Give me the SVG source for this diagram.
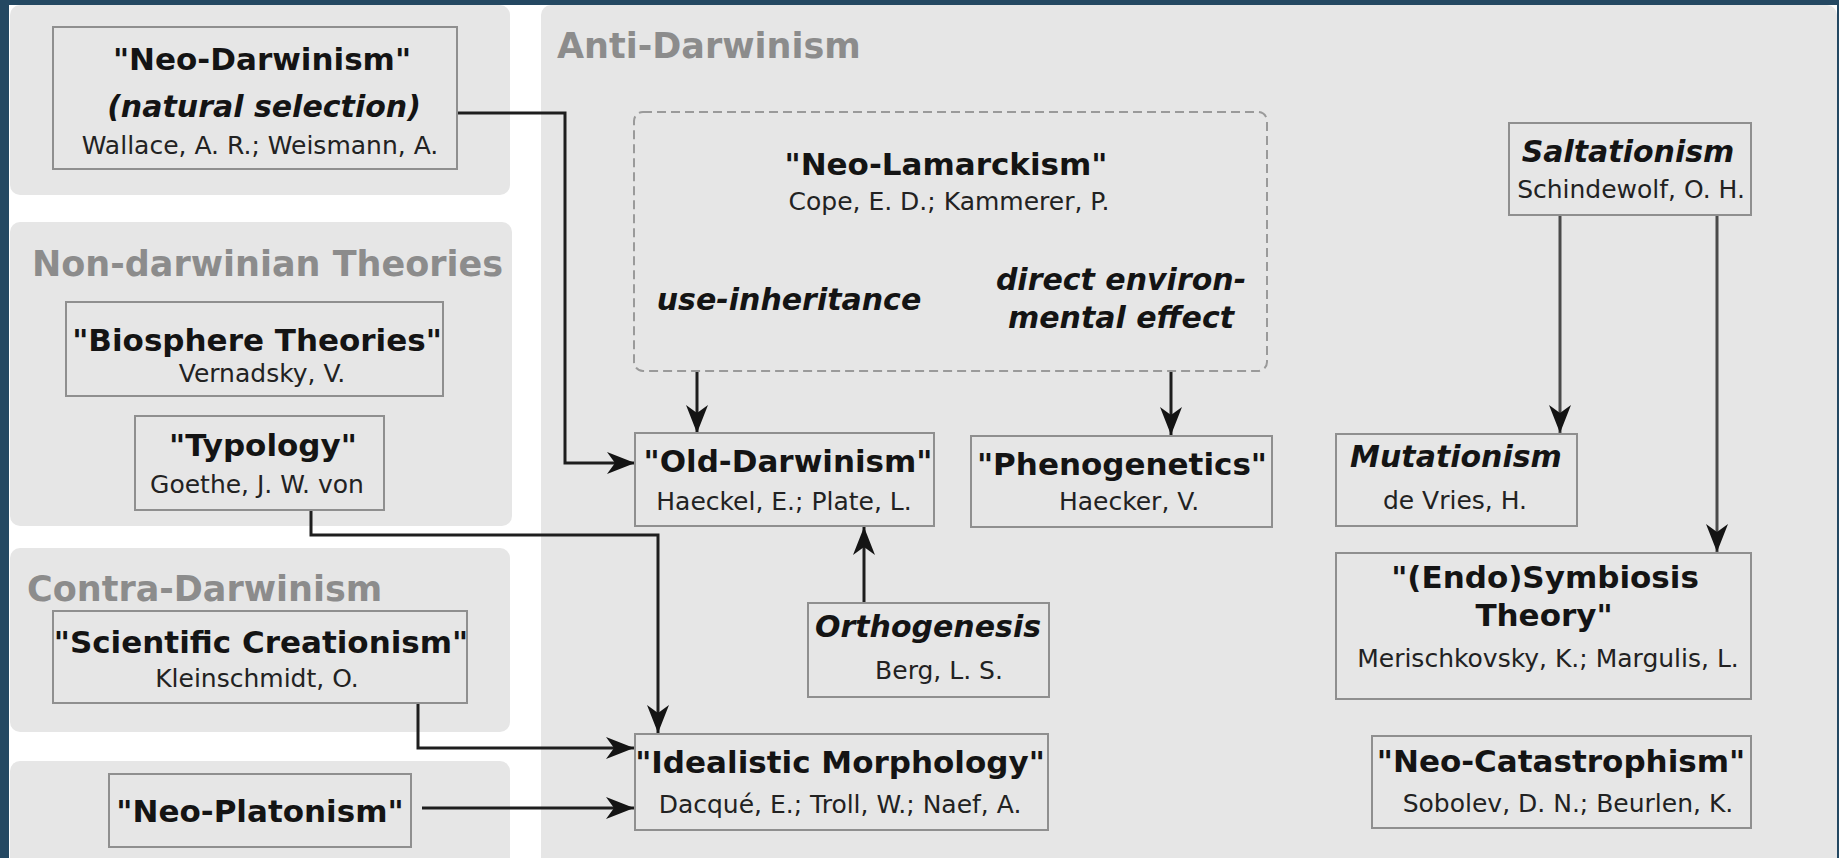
<svg xmlns="http://www.w3.org/2000/svg" width="1839" height="858" viewBox="0 0 1839 858">
<style>
.panel{fill:#e6e6e6}
.box{fill:none;stroke:#8f8f8f;stroke-width:2}
.dash{fill:none;stroke:#9a9a9a;stroke-width:2;stroke-dasharray:9 5}
text{font-family:"DejaVu Sans","Liberation Sans",sans-serif;text-anchor:middle}
.t{font-size:31px;font-weight:bold;fill:#141414}
.i{font-size:30px;font-weight:bold;font-style:italic;fill:#141414}
.s{font-size:25px;fill:#222}
.h{font-size:35px;font-weight:bold;fill:#8c8c8c;text-anchor:start}
.c{fill:none;stroke:#1e1e1e;stroke-width:3}
.g{fill:none;stroke:#4a4a4a;stroke-width:3}
</style>
<defs>
<marker id="ah" markerUnits="userSpaceOnUse" markerWidth="32" markerHeight="26" viewBox="-30 -13 32 26" refX="0" refY="0" orient="auto">
<path d="M0,0 L-28,-11 L-20,0 L-28,11 Z" fill="#141414"/>
</marker>
</defs>
<rect x="0" y="0" width="1839" height="858" fill="#244862"/>
<rect x="9" y="5" width="1828" height="860" fill="#ffffff"/>
<g id="panels">
<rect class="panel" x="10" y="5" width="500" height="190" rx="10"/>
<rect class="panel" x="10" y="222" width="502" height="304" rx="10"/>
<rect class="panel" x="10" y="548" width="500" height="184" rx="10"/>
<rect class="panel" x="10" y="761" width="500" height="120" rx="10"/>
<rect class="panel" x="541" y="5" width="1296" height="880" rx="10"/>
<text class="h" x="32" y="276">Non-darwinian Theories</text>
<text class="h" x="27" y="601">Contra-Darwinism</text>
<text class="h" x="557" y="58">Anti-Darwinism</text>
</g>
<g id="connectors">
<path class="c" d="M457,113 H565 V463 H635" marker-end="url(#ah)"/>
<path class="c" d="M697,371 V433" marker-end="url(#ah)"/>
<path class="c" d="M1171,371 V435" marker-end="url(#ah)"/>
<path class="c" d="M864,603 V527" marker-end="url(#ah)"/>
<path class="c" d="M311,510 V535 H658 V733" marker-end="url(#ah)"/>
<path class="c" d="M418,703 V748 H634" marker-end="url(#ah)"/>
<path class="c" d="M422,808 H634" marker-end="url(#ah)"/>
<path class="g" d="M1560,215 V433" marker-end="url(#ah)"/>
<path class="g" d="M1717,215 V552" marker-end="url(#ah)"/>
</g>
<g id="neo-darwinism">
<rect class="box" x="53" y="27" width="404" height="142"/>
<text class="t" x="262" y="70">"Neo-Darwinism"</text>
<text class="i" x="264" y="117">(natural selection)</text>
<text class="s" x="260" y="154">Wallace, A. R.; Weismann, A.</text>
</g>
<g id="biosphere">
<rect class="box" x="66" y="302" width="377" height="94"/>
<text class="t" x="257" y="351">"Biosphere Theories"</text>
<text class="s" x="262" y="382">Vernadsky, V.</text>
</g>
<g id="typology">
<rect class="box" x="135" y="416" width="249" height="94"/>
<text class="t" x="263" y="456">"Typology"</text>
<text class="s" x="257" y="493">Goethe, J. W. von</text>
</g>
<g id="scientific-creationism">
<rect class="box" x="53" y="611" width="414" height="92"/>
<text class="t" x="261" y="653">"Scientific Creationism"</text>
<text class="s" x="257" y="687">Kleinschmidt, O.</text>
</g>
<g id="neo-platonism">
<rect class="box" x="109" y="774" width="302" height="73"/>
<text class="t" x="260" y="822">"Neo-Platonism"</text>
</g>
<g id="neo-lamarckism">
<rect class="dash" x="634" y="112" width="633" height="259" rx="9"/>
<text class="t" x="946" y="175">"Neo-Lamarckism"</text>
<text class="s" x="949" y="210">Cope, E. D.; Kammerer, P.</text>
<text class="i" x="789" y="310">use-inheritance</text>
<text class="i" x="1121" y="290">direct environ-</text>
<text class="i" x="1121" y="328">mental effect</text>
</g>
<g id="old-darwinism">
<rect class="box" x="635" y="433" width="299" height="93"/>
<text class="t" x="788" y="472">"Old-Darwinism"</text>
<text class="s" x="784" y="510">Haeckel, E.; Plate, L.</text>
</g>
<g id="phenogenetics">
<rect class="box" x="971" y="436" width="301" height="91"/>
<text class="t" x="1122" y="475">"Phenogenetics"</text>
<text class="s" x="1129" y="510">Haecker, V.</text>
</g>
<g id="orthogenesis">
<rect class="box" x="808" y="603" width="241" height="94"/>
<text class="i" x="928" y="637">Orthogenesis</text>
<text class="s" x="939" y="679">Berg, L. S.</text>
</g>
<g id="idealistic-morphology">
<rect class="box" x="635" y="734" width="413" height="96"/>
<text class="t" x="840" y="773">"Idealistic Morphology"</text>
<text class="s" x="840" y="813">Dacqué, E.; Troll, W.; Naef, A.</text>
</g>
<g id="saltationism">
<rect class="box" x="1509" y="123" width="242" height="92"/>
<text class="i" x="1628" y="162">Saltationism</text>
<text class="s" x="1631" y="198">Schindewolf, O. H.</text>
</g>
<g id="mutationism">
<rect class="box" x="1336" y="434" width="241" height="92"/>
<text class="i" x="1456" y="467">Mutationism</text>
<text class="s" x="1455" y="509">de Vries, H.</text>
</g>
<g id="symbiosis">
<rect class="box" x="1336" y="553" width="415" height="146"/>
<text class="t" x="1545" y="588">"(Endo)Symbiosis</text>
<text class="t" x="1544" y="626">Theory"</text>
<text class="s" x="1548" y="667">Merischkovsky, K.; Margulis, L.</text>
</g>
<g id="neo-catastrophism">
<rect class="box" x="1372" y="736" width="379" height="92"/>
<text class="t" x="1561" y="772">"Neo-Catastrophism"</text>
<text class="s" x="1568" y="812">Sobolev, D. N.; Beurlen, K.</text>
</g>
</svg>
